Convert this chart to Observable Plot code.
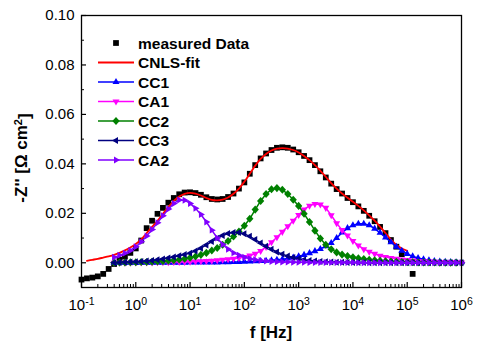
<!DOCTYPE html>
<html><head><meta charset="utf-8">
<script src="https://cdn.jsdelivr.net/npm/d3@7"></script>
<script src="https://cdn.jsdelivr.net/npm/@observablehq/plot@0.6"></script>
<style>
body{margin:0;background:#fff;}
#chart{width:477px;height:347px;}
svg{font-family:"Liberation Sans",Arial,sans-serif;}
</style></head>
<body><div id="chart"></div>
<script>
// ---- data (log10 of frequency in Hz, -Z'' in Ohm cm^2) ----
const logF_meas = [-1.0,-0.9,-0.8,-0.7,-0.6,-0.5,-0.4,-0.3,-0.2,-0.1,
  0.0,0.1,0.2,0.3,0.4,0.5,0.6,0.7,0.8,0.9,
  1.0,1.1,1.2,1.3,1.4,1.5,1.6,1.7,1.8,1.9,
  2.0,2.1,2.2,2.3,2.4,2.5,2.6,2.7,2.8,2.9,
  3.0,3.1,3.2,3.3,3.4,3.5,3.6,3.7,3.8,3.9,
  4.0,4.1,4.2,4.3,4.4,4.5,4.6,4.7,4.8,4.9,5.1];
const measured = [-0.0068,-0.0063,-0.0060,-0.0055,-0.0045,-0.0025,-0.0005,0.0012,0.0025,0.0040,
  0.0058,0.0090,0.0140,0.0170,0.0198,0.0222,0.0243,0.0262,0.0277,0.0284,
  0.0285,0.0282,0.0275,0.0265,0.0258,0.0256,0.0258,0.0266,0.0280,0.0300,
  0.0325,0.0360,0.0395,0.0422,0.0442,0.0456,0.0465,0.0467,0.0465,0.0458,
  0.0447,0.0432,0.0415,0.0395,0.0370,0.0345,0.0320,0.0298,0.0280,0.0262,
  0.0245,0.0228,0.0210,0.0190,0.0168,0.0145,0.0120,0.0092,0.0065,0.0035,-0.0045];

const logF_fit = [-0.9,-0.8,-0.7,-0.6,-0.5,-0.4,-0.3,-0.2,-0.1,
  0.0,0.1,0.2,0.3,0.4,0.5,0.6,0.7,0.8,0.9,
  1.0,1.1,1.2,1.3,1.4,1.5,1.6,1.7,1.8,1.9,
  2.0,2.1,2.2,2.3,2.4,2.5,2.6,2.7,2.8,2.9,
  3.0,3.1,3.2,3.3,3.4,3.5,3.6,3.7,3.8,3.9,
  4.0,4.1,4.2,4.3,4.4,4.5,4.6,4.7,4.8,4.9,5.0];
const cnlsFit = [0.0008,0.0012,0.0016,0.0021,0.0026,0.0032,0.0040,0.0050,0.0062,
  0.0076,0.0095,0.0120,0.0145,0.0170,0.0198,0.0225,0.0250,0.0268,0.0279,
  0.0283,0.0280,0.0272,0.0262,0.0254,0.0252,0.0255,0.0264,0.0279,0.0300,
  0.0328,0.0360,0.0393,0.0420,0.0440,0.0454,0.0462,0.0464,0.0462,0.0456,
  0.0446,0.0432,0.0415,0.0395,0.0372,0.0348,0.0322,0.0300,0.0280,0.0263,
  0.0247,0.0230,0.0212,0.0192,0.0170,0.0146,0.0120,0.0094,0.0072,0.0058,0.0048];

const logF_comp = [-0.4,-0.3,-0.2,-0.1,0.0,0.1,0.2,0.3,0.4,0.5,
  0.6,0.7,0.8,0.9,1.0,1.1,1.2,1.3,1.4,1.5,
  1.6,1.7,1.8,1.9,2.0,2.1,2.2,2.3,2.4,2.5,
  2.6,2.7,2.8,2.9,3.0,3.1,3.2,3.3,3.4,3.5,
  3.6,3.7,3.8,3.9,4.0,4.1,4.2,4.3,4.4,4.5,
  4.6,4.7,4.8,4.9,5.0,5.1,5.2,5.3,5.4,5.5,
  5.6,5.7,5.8,5.9,6.0];
const cc1 = [0,0,0,0,0,0,0,0,0,0,
  0,0,0,0,0.0001,0.0001,0.0001,0.0001,0.0001,0.0001,
  0.0002,0.0002,0.0003,0.0003,0.0004,0.0005,0.0006,0.0007,0.0008,0.0010,
  0.0012,0.0014,0.0017,0.0021,0.0026,0.0032,0.0039,0.0047,0.0056,0.0067,
  0.0080,0.0100,0.0122,0.0140,0.0152,0.0158,0.0158,0.0152,0.0138,0.0121,
  0.0102,0.0083,0.0065,0.0049,0.0036,0.0026,0.0019,0.0014,0.0010,0.0007,
  0.0005,0.0004,0.0003,0.0002,0.0002];
const ca1 = [0,0,0,0,0.0001,0.0001,0.0001,0.0001,0.0002,0.0002,
  0.0002,0.0003,0.0003,0.0003,0.0004,0.0005,0.0006,0.0007,0.0008,0.0010,
  0.0012,0.0014,0.0016,0.0019,0.0023,0.0029,0.0036,0.0048,0.0064,0.0083,
  0.0103,0.0125,0.0148,0.0170,0.0193,0.0215,0.0231,0.0238,0.0236,0.0222,
  0.0192,0.0160,0.0132,0.0110,0.0088,0.0070,0.0055,0.0045,0.0036,0.0028,
  0.0023,0.0019,0.0016,0.0013,0.0011,0.0009,0.0007,0.0006,0.0005,0.0004,
  0.0003,0.0003,0.0002,0.0002,0.0001];
const cc2 = [0,0.0001,0.0001,0.0002,0.0002,0.0003,0.0003,0.0004,0.0005,0.0006,
  0.0008,0.0010,0.0013,0.0016,0.0020,0.0025,0.0032,0.0040,0.0050,0.0060,
  0.0073,0.0088,0.0106,0.0126,0.0150,0.0178,0.0215,0.0250,0.0278,0.0297,
  0.0302,0.0295,0.0278,0.0255,0.0230,0.0198,0.0165,0.0130,0.0098,0.0073,
  0.0055,0.0042,0.0033,0.0027,0.0022,0.0018,0.0015,0.0012,0.0010,0.0008,
  0.0006,0.0005,0.0004,0.0003,0.0002,0.0002,0.0001,0.0001,0.0001,0.0001,
  0,0,0,0,0];
const cc3 = [0,0.0001,0.0002,0.0003,0.0004,0.0005,0.0007,0.0009,0.0012,0.0015,
  0.0019,0.0023,0.0028,0.0033,0.0039,0.0048,0.0059,0.0072,0.0086,0.0099,
  0.0110,0.0118,0.0122,0.0122,0.0117,0.0107,0.0094,0.0080,0.0067,0.0055,
  0.0044,0.0035,0.0027,0.0021,0.0016,0.0012,0.0009,0.0007,0.0005,0.0004,
  0.0003,0.0002,0.0002,0.0001,0.0001,0.0001,0.0001,0,0,0,
  0,0,0,0,0,0,0,0,0,0,
  0,0,0,0,0];
const ca2 = [0.0022,0.0030,0.0039,0.0050,0.0065,0.0085,0.0108,0.0135,0.0162,0.0190,
  0.0217,0.0240,0.0254,0.0253,0.0240,0.0220,0.0195,0.0165,0.0132,0.0100,
  0.0074,0.0055,0.0040,0.0030,0.0022,0.0016,0.0012,0.0009,0.0007,0.0005,
  0.0004,0.0003,0.0003,0.0002,0.0002,0.0002,0.0001,0.0001,0.0001,0.0001,
  0.0001,0.0001,0.0001,0.0001,0.0001,0,0,0,0,0,
  0,0,0,0,0,0,0,0,0,0,
  0,0,0,0,0];

const xMajorTicks = [0.1,1,10,100,1000,10000,100000,1000000];
const yMajorTicks = [0.00,0.02,0.04,0.06,0.08,0.10];
const yMinorTicks = [-0.01,0.01,0.03,0.05,0.07,0.09];

// ---- symbols ----
function tri(dir){
  return {draw(ctx,size){
    const r = Math.sqrt(size/Math.PI)*1.3;
    const pts = [[0,-r],[r*0.866,r*0.5],[-r*0.866,r*0.5]];
    const rot = {up:0,down:Math.PI,left:-Math.PI/2,right:Math.PI/2}[dir];
    const c=Math.cos(rot), s=Math.sin(rot);
    pts.forEach(([x,y],i)=>{const X=x*c-y*s, Y=x*s+y*c; i?ctx.lineTo(X,Y):ctx.moveTo(X,Y);});
    ctx.closePath();
  }};
}
const diamond = {draw(ctx,size){
  const r = Math.sqrt(size/Math.PI)*1.3;
  ctx.moveTo(0,-r); ctx.lineTo(r*0.9,0); ctx.lineTo(0,r); ctx.lineTo(-r*0.9,0); ctx.closePath();
}};
const square = {draw(ctx,size){
  const h = Math.sqrt(size/Math.PI)*0.9;
  ctx.moveTo(-h,-h); ctx.lineTo(h,-h); ctx.lineTo(h,h); ctx.lineTo(-h,h); ctx.closePath();
}};

const series = [
  {name:"CC1", vals:cc1, color:"#0000ff", sym:tri("up")},
  {name:"CA1", vals:ca1, color:"#ff00ff", sym:tri("down")},
  {name:"CC2", vals:cc2, color:"#008000", sym:diamond},
  {name:"CC3", vals:cc3, color:"#000080", sym:tri("left")},
  {name:"CA2", vals:ca2, color:"#8000ff", sym:tri("right")}
];

const measRows = logF_meas.map((L,i)=>({f:10**L, v:measured[i]}));
const fitRows = logF_fit.map((L,i)=>({f:10**L, v:cnlsFit[i]}));

const xMinor = [];
for (let e=-1;e<6;e++) for (let m=2;m<10;m++) xMinor.push(m*10**e);

const marks = [
  Plot.dot(measRows,{x:"f",y:"v",symbol:square,r:3.2,fill:"#000",stroke:null}),
  Plot.line(fitRows,{x:"f",y:"v",stroke:"#ff0000",strokeWidth:1.8,curve:"catmull-rom"})
];
for (const s of series){
  const rows = logF_comp.map((L,i)=>({f:10**L, v:s.vals[i]}));
  marks.push(Plot.line(rows,{x:"f",y:"v",stroke:s.color,strokeWidth:1.5}));
  marks.push(Plot.dot(rows,{x:"f",y:"v",symbol:s.sym,r:3.1,fill:s.color,stroke:null}));
}
marks.push(
  Plot.frame({stroke:"#000",strokeWidth:1.3}),
  Plot.axisX({ticks:xMajorTicks,tickSize:0,tickPadding:12,label:null,fontSize:15,
    tickFormat:d=>"10^"+Math.round(Math.log10(d))}),
  Plot.axisX({ticks:xMajorTicks,tickSize:-5,text:null,label:null,strokeWidth:1.2}),
  Plot.axisX({ticks:xMinor,tickSize:-3,text:null,label:null,strokeWidth:1}),
  Plot.axisY({ticks:yMajorTicks,tickSize:0,tickPadding:7,label:null,fontSize:15,tickFormat:d3.format(".2f")}),
  Plot.axisY({ticks:yMajorTicks,tickSize:-5,text:null,label:null,strokeWidth:1.2}),
  Plot.axisY({ticks:yMinorTicks,tickSize:-3,text:null,label:null,strokeWidth:1})
);

const chart = Plot.plot({
  width:477, height:347,
  marginLeft:81, marginRight:16, marginTop:15, marginBottom:60,
  style:{fontFamily:"Liberation Sans, Arial, sans-serif",color:"#000",background:"#fff",overflow:"visible"},
  x:{type:"log",domain:[0.1,1e6]},
  y:{domain:[-0.01,0.10]},
  marks
});
document.getElementById("chart").appendChild(chart);

// superscript exponents on the x tick labels
const svg = d3.select(chart);
svg.selectAll('g[aria-label="x-axis tick label"] text').each(function(){
  const t = d3.select(this);
  const s = t.text();
  if (!s.startsWith("10^")) return;
  const exp = s.slice(3);
  t.text("10");
  t.append("tspan").attr("dy","-0.45em").attr("font-size","10.5px").text(exp);
});

// axis titles
const font = "Liberation Sans, Arial, sans-serif";
const yl = svg.append("text").attr("transform","translate(27,158) rotate(-90)")
  .attr("text-anchor","middle").attr("font-family",font).attr("font-weight","bold").attr("font-size",17).attr("fill","#000");
yl.append("tspan").text("-Z'' [\u03A9 cm");
yl.append("tspan").attr("dy","-0.5em").attr("font-size",11).text("2");
yl.append("tspan").attr("dy","0.5em").text("]");
svg.append("text").attr("x",271).attr("y",338).attr("text-anchor","middle")
  .attr("font-family",font).attr("font-weight","bold").attr("font-size",17).attr("fill","#000").text("f [Hz]");

// legend
const legendItems = [{name:"measured Data", color:"#000", sym:square, line:false, size:3.2},
  {name:"CNLS-fit", color:"#ff0000", sym:null, line:true},
  ...series.map(s=>({name:s.name,color:s.color,sym:s.sym,line:true,size:3.1}))];
const lg = svg.append("g");
legendItems.forEach((d,i)=>{
  const y = 43 + i*19.5;
  const g = lg.append("g").attr("transform",`translate(0,${y})`);
  if (d.line) g.append("line").attr("x1",98).attr("x2",134).attr("stroke",d.color).attr("stroke-width",d.sym?1.5:1.8);
  if (d.sym) g.append("path").attr("transform","translate(116,0)")
    .attr("d",d3.symbol().type(d.sym).size(Math.PI*d.size*d.size)()).attr("fill",d.color);
  g.append("text").attr("x",138).attr("dy","0.36em").attr("text-anchor","start").attr("font-family",font).attr("font-weight","bold")
    .attr("font-size",15.5).attr("fill","#000").text(d.name);
});
</script></body></html>
